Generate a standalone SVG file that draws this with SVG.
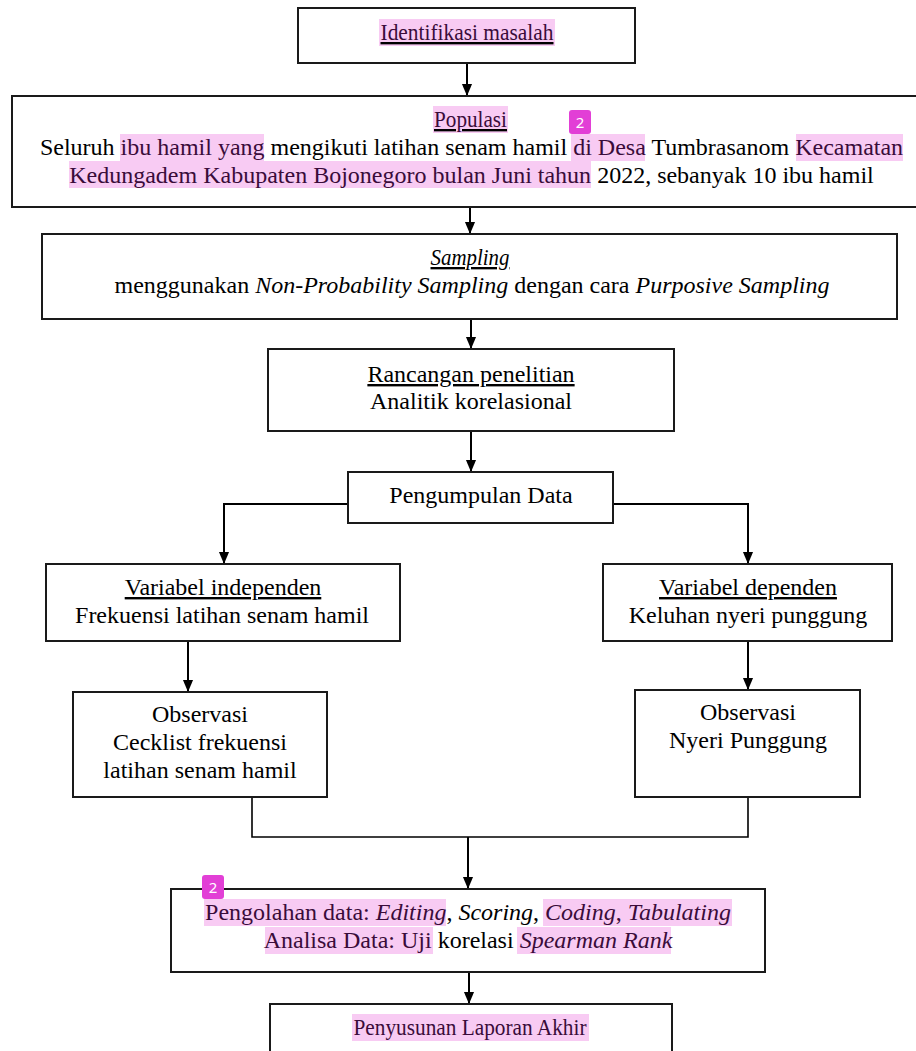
<svg xmlns="http://www.w3.org/2000/svg" width="916" height="1051" viewBox="0 0 916 1051">
<style>
.box{fill:#fff;stroke:#1a1a1a;stroke-width:2}
.t{font-family:"Liberation Serif","Times New Roman",serif;font-size:24px;fill:#000;text-anchor:middle}
.s{font-size:23.5px}
.u{text-decoration:underline}
.i{font-style:italic}
.h{fill:#3a0c3a}
.hl{fill:#f8cbf3}
.badge{fill:#e23fd6}
.bt{font-family:"Noto Sans","DejaVu Sans",sans-serif;font-size:15px;fill:#fff;text-anchor:middle}
.c{fill:none;stroke:#000;stroke-width:2}
</style>
<defs>
<marker id="a" markerWidth="12" markerHeight="13" refX="12" refY="6" orient="auto" markerUnits="userSpaceOnUse" viewBox="0 0 13 12">
<path d="M0,0.5 L13,6 L0,11.5 Z" fill="#000"/>
</marker>
</defs>
<rect width="916" height="1051" fill="#fff"/>

<g id="connectors">
<line class="c" x1="467" y1="63" x2="467" y2="95" marker-end="url(#a)"/>
<line class="c" x1="470" y1="207" x2="470" y2="233" marker-end="url(#a)"/>
<line class="c" x1="471" y1="319" x2="471" y2="348" marker-end="url(#a)"/>
<line class="c" x1="471" y1="431" x2="471" y2="471" marker-end="url(#a)"/>
<polyline class="c" points="348,504 224,504 224,563" marker-end="url(#a)"/>
<polyline class="c" points="613,504 748,504 748,563" marker-end="url(#a)"/>
<line class="c" x1="188" y1="641" x2="188" y2="691" marker-end="url(#a)"/>
<line class="c" x1="748" y1="641" x2="748" y2="689" marker-end="url(#a)"/>
<polyline class="c" style="stroke-width:1.6" points="252,797 252,837 748,837 748,797"/>
<line class="c" x1="468" y1="837" x2="468" y2="888" marker-end="url(#a)"/>
<line class="c" x1="469" y1="972" x2="469" y2="1003" marker-end="url(#a)"/>
</g>

<g id="identifikasi">
<rect class="box" x="298" y="8" width="337" height="55"/>
<rect class="hl" x="379" y="19" width="176" height="27"/>
<text class="t s u" x="467" y="40" textLength="173" lengthAdjust="spacingAndGlyphs"><tspan class="h">Identifikasi masalah</tspan></text>
</g>

<g id="populasi">
<rect class="box" x="12" y="96" width="912" height="111"/>
<rect class="hl" x="433" y="106" width="75" height="27"/>
<rect class="hl" x="120" y="134" width="144" height="27"/>
<rect class="hl" x="571" y="134" width="74" height="27"/>
<rect class="hl" x="796" y="134" width="107" height="27"/>
<rect class="hl" x="69" y="161" width="522" height="27"/>
<text class="t s u" x="470.5" y="127" textLength="73" lengthAdjust="spacingAndGlyphs"><tspan class="h">Populasi</tspan></text>
<text class="t" x="471.5" y="155">Seluruh <tspan class="h">ibu hamil yang</tspan> mengikuti latihan senam hamil <tspan class="h">di Desa</tspan> Tumbrasanom <tspan class="h">Kecamatan</tspan></text>
<text class="t" x="471.5" y="183"><tspan class="h">Kedungadem Kabupaten Bojonegoro bulan Juni tahun</tspan> 2022, sebanyak 10 ibu hamil</text>
<rect class="badge" x="569" y="110" width="22" height="24" rx="3"/>
<text class="bt" x="580" y="128">2</text>
</g>

<g id="sampling">
<rect class="box" x="42" y="234" width="855" height="85"/>
<text class="t s i u" x="470" y="265" textLength="79" lengthAdjust="spacingAndGlyphs">Sampling</text>
<text class="t" x="472" y="293">menggunakan <tspan class="i">Non-Probability Sampling</tspan> dengan cara <tspan class="i">Purposive Sampling</tspan></text>
</g>

<g id="rancangan">
<rect class="box" x="268" y="349" width="406" height="82"/>
<text class="t u" x="471" y="382">Rancangan penelitian</text>
<text class="t" x="471" y="409">Analitik korelasional</text>
</g>

<g id="pengumpulan">
<rect class="box" x="348" y="472" width="265" height="51"/>
<text class="t" x="481" y="503">Pengumpulan Data</text>
</g>

<g id="var-independen">
<rect class="box" x="46" y="564" width="354" height="77"/>
<text class="t u" x="223" y="595">Variabel independen</text>
<text class="t" x="222" y="623">Frekuensi latihan senam hamil</text>
</g>

<g id="var-dependen">
<rect class="box" x="603" y="564" width="289" height="77"/>
<text class="t u" x="748" y="595">Variabel dependen</text>
<text class="t" x="748" y="623">Keluhan nyeri punggung</text>
</g>

<g id="observasi-kiri">
<rect class="box" x="73" y="692" width="254" height="105"/>
<text class="t" x="200" y="722">Observasi</text>
<text class="t" x="200" y="750">Cecklist frekuensi</text>
<text class="t" x="200" y="778">latihan senam hamil</text>
</g>

<g id="observasi-kanan">
<rect class="box" x="635" y="690" width="225" height="107"/>
<text class="t" x="748" y="720">Observasi</text>
<text class="t" x="748" y="748">Nyeri Punggung</text>
</g>

<g id="pengolahan">
<rect class="box" x="171" y="889" width="594" height="83"/>
<rect class="hl" x="204" y="899" width="242" height="27"/>
<rect class="hl" x="543" y="899" width="189" height="27"/>
<rect class="hl" x="265" y="927" width="168" height="27"/>
<rect class="hl" x="517" y="927" width="154" height="27"/>
<text class="t" x="468" y="920"><tspan class="h">Pengolahan data: <tspan class="i">Editing</tspan></tspan>, <tspan class="i">Scoring</tspan>, <tspan class="h"><tspan class="i">Coding</tspan>, <tspan class="i">Tabulating</tspan></tspan></text>
<text class="t" x="468" y="948"><tspan class="h">Analisa Data: Uji</tspan> korelasi <tspan class="h i">Spearman Rank</tspan></text>
<rect class="badge" x="202" y="875" width="22" height="24" rx="3"/>
<text class="bt" x="213" y="893">2</text>
</g>

<g id="penyusunan">
<rect class="box" x="270" y="1004" width="402" height="60"/>
<rect class="hl" x="352" y="1014" width="237" height="27"/>
<text class="t s" x="470" y="1035" textLength="233" lengthAdjust="spacingAndGlyphs"><tspan class="h">Penyusunan Laporan Akhir</tspan></text>
</g>
</svg>
